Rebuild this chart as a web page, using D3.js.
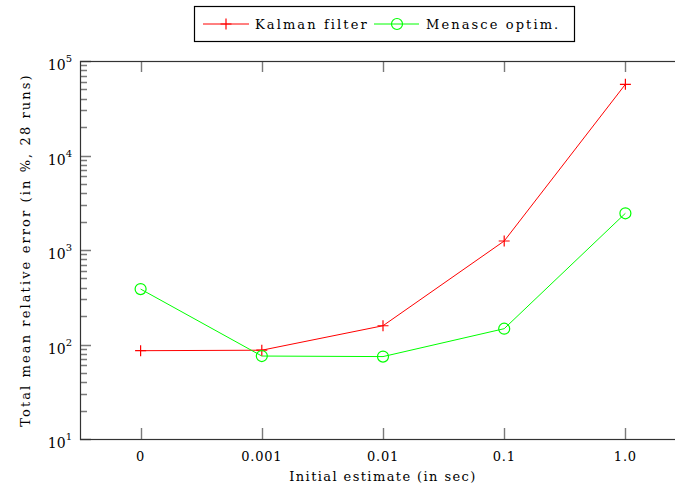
<!DOCTYPE html>
<html>
<head>
<meta charset="utf-8">
<script src="https://cdn.jsdelivr.net/npm/d3@7"></script>
<style>
  body { margin: 0; background: #fff; }
  text { font-family: "DejaVu Serif", serif; fill: #000; }
</style>
</head>
<body>
<svg id="chart" width="675" height="489"></svg>
<script>
// data
var categories = ["0", "0.001", "0.01", "0.1", "1.0"];
var kalman = [86, 87, 158, 1245, 56700];
var menasce = [386, 75.5, 74.5, 147, 2445];
var yTickValues = [10, 100, 1000, 10000, 100000];
var seriesNames = ["Kalman filter", "Menasce optim."];

var svg = d3.select("#chart");

// plot box (window.top is reserved, so prefixed names)
var boxL = 80, boxR = 686, boxT = 61, boxB = 439;

// x is a linear index scale so the box keeps half a step either side
var x = d3.scaleLinear()
    .domain([-0.5, categories.length - 0.5])
    .range([boxL, boxR]);

var y = d3.scaleLog()
    .domain([10, 100000])
    .range([boxB, boxT]);

var MAJOR = 11, MINOR = 7;
var tickColor = "#7a7a7a";

// minor ticks 2..9 of each decade
var minors = [];
yTickValues.slice(0, -1).forEach(function(d){
    for (var k = 2; k <= 9; k++) minors.push(d * k);
});

// all ticks point inward, on both sides of the box; one path per axis
function tickPath(dstr){
    svg.append("path")
        .attr("d", dstr)
        .attr("fill", "none")
        .attr("stroke", tickColor)
        .attr("stroke-width", 1.4);
}
var dY = "";
minors.forEach(function(d){
    var yy = Math.round(y(d)) + 0.5;
    dY += "M" + boxL + "," + yy + "h" + MINOR;
    dY += "M" + boxR + "," + yy + "h" + (-MINOR);
});
yTickValues.forEach(function(d){
    var yy = Math.round(y(d)) + 0.5;
    dY += "M" + boxL + "," + yy + "h" + MAJOR;
    dY += "M" + boxR + "," + yy + "h" + (-MAJOR);
});
tickPath(dY);
var dX = "";
categories.forEach(function(d, i){
    var xx = Math.round(x(i)) + 0.5;
    dX += "M" + xx + "," + boxB + "v" + (-MAJOR);
    dX += "M" + xx + "," + boxT + "v" + MAJOR;
});
tickPath(dX);

// axis box
svg.append("rect")
    .attr("x", boxL + 0.5).attr("y", boxT + 0.5)
    .attr("width", boxR - boxL).attr("height", boxB - boxT)
    .attr("fill", "none")
    .attr("stroke", "#333")
    .attr("stroke-width", 1.2);

// x tick labels
svg.append("g").selectAll("text").data(categories).enter().append("text")
    .attr("x", function(d, i){ return x(i); })
    .attr("y", 461)
    .attr("text-anchor", "middle")
    .style("font-size", "13px")
    .style("letter-spacing", "0.8px")
    .text(function(d){ return d; });

// y tick labels: 10 with superscript exponent
var yLab = svg.append("g").selectAll("text").data(yTickValues).enter().append("text")
    .attr("x", 72)
    .attr("y", function(d){ return y(d) + 9; })
    .attr("text-anchor", "end")
    .style("font-size", "14px");
yLab.append("tspan").text("10");
yLab.append("tspan")
    .attr("dy", -8)
    .style("font-size", "10px")
    .text(function(d){ return Math.round(Math.log10(d)); });

// axis labels
svg.append("text")
    .attr("x", (boxL + boxR) / 2)
    .attr("y", 481)
    .attr("text-anchor", "middle")
    .style("font-size", "13px")
    .style("letter-spacing", "1.4px")
    .text("Initial estimate (in sec)");

svg.append("text")
    .attr("transform", "translate(30," + ((boxT + boxB) / 2) + ") rotate(-90)")
    .attr("text-anchor", "middle")
    .style("font-size", "13px")
    .style("letter-spacing", "2.1px")
    .text("Total mean relative error (in %, 28 runs)");

// series
var line = d3.line()
    .x(function(d, i){ return x(i); })
    .y(function(d){ return y(d); });

var plot = svg.append("g");

plot.append("path").datum(kalman)
    .attr("d", line)
    .attr("fill", "none").attr("stroke", "#ff0000").attr("stroke-width", 1);
plot.append("path").datum(menasce)
    .attr("d", line)
    .attr("fill", "none").attr("stroke", "#00ff00").attr("stroke-width", 1);

var R = 5.5;
function plus(sel, cx, cy){
    sel.append("path")
        .attr("d", "M" + (cx - R) + "," + cy + "H" + (cx + R) + "M" + cx + "," + (cy - R) + "V" + (cy + R))
        .attr("stroke", "#ff0000").attr("stroke-width", 1.2).attr("fill", "none");
}
function ring(sel, cx, cy){
    sel.append("circle")
        .attr("cx", cx).attr("cy", cy).attr("r", R)
        .attr("stroke", "#00ff00").attr("stroke-width", 1.2).attr("fill", "none");
}

kalman.forEach(function(d, i){ plus(plot, x(i), y(d)); });
menasce.forEach(function(d, i){ ring(plot, x(i), y(d)); });

// legend
var lg = svg.append("g");
lg.append("rect")
    .attr("x", 194.5).attr("y", 6.5)
    .attr("width", 380).attr("height", 35)
    .attr("fill", "#fff").attr("stroke", "#000").attr("stroke-width", 1.2);

lg.append("line").attr("x1", 203).attr("x2", 249).attr("y1", 24).attr("y2", 24)
    .attr("stroke", "#ff0000").attr("stroke-width", 1);
plus(lg, 226, 24);
lg.append("text").attr("x", 255).attr("y", 29)
    .style("font-size", "13px").style("letter-spacing", "2.1px")
    .text(seriesNames[0]);

lg.append("line").attr("x1", 374).attr("x2", 419).attr("y1", 24).attr("y2", 24)
    .attr("stroke", "#00ff00").attr("stroke-width", 1);
ring(lg, 397, 24);
lg.append("text").attr("x", 426).attr("y", 29)
    .style("font-size", "13px").style("letter-spacing", "2.1px")
    .text(seriesNames[1]);
</script>
</body>
</html>
